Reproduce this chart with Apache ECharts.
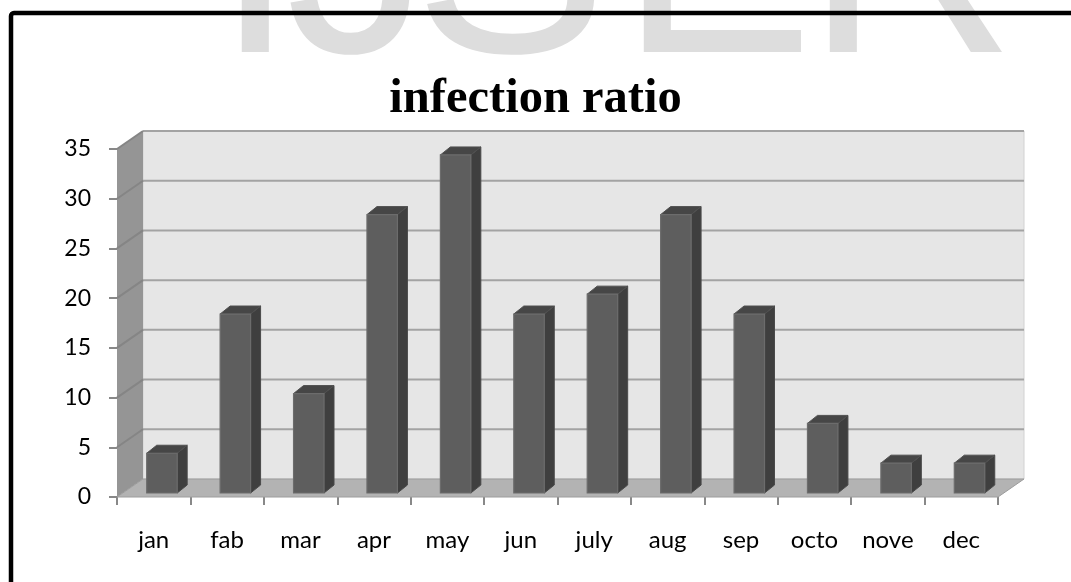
<!DOCTYPE html>
<html>
<head>
<meta charset="utf-8">
<style>
  html, body { margin: 0; padding: 0; background: #ffffff; }
  #chart { width: 1071px; height: 582px; }
</style>
<script src="https://cdn.jsdelivr.net/npm/echarts@6/dist/echarts.min.js"></script>
</head>
<body>
<div id="chart"></div>
<script>
// Monthly infection ratio
const months = ['jan', 'fab', 'mar', 'apr', 'may', 'jun', 'july', 'aug', 'sep', 'octo', 'nove', 'dec'];
const ratio = [4, 18, 10, 28, 34, 18, 20, 28, 18, 7, 3, 3];
const yTicks = [0, 5, 10, 15, 20, 25, 30, 35];

// oblique depth of the box (back plane offset) and of each column
const DEPTH = [26, -18];
const COL_FRONT = [0, -4];
const COL_DEPTH = [10, -8];

const chart = echarts.init(document.getElementById('chart'), null, { renderer: 'canvas' });

function poly(points, fill, stroke, lw) {
  return {
    type: 'polygon',
    shape: { points: points },
    style: { fill: fill, stroke: stroke || null, lineWidth: lw || 0 }
  };
}
function seg(a, b, color, lw) {
  return {
    type: 'line',
    shape: { x1: a[0], y1: a[1], x2: b[0], y2: b[1] },
    style: { stroke: color, lineWidth: lw }
  };
}
function back(p) { return [p[0] + DEPTH[0], p[1] + DEPTH[1]]; }

// walls, floor and gridlines of the 3D box
function renderBox(params, api) {
  const band = api.size([1, 0])[0];
  const first = api.coord([0, 0]);
  const last = api.coord([months.length - 1, 0]);
  const xl = first[0] - band / 2;
  const xr = last[0] + band / 2;
  const yMin = yTicks[0], yMax = yTicks[yTicks.length - 1];
  const y0 = api.coord([0, yMin])[1];
  const yTop = api.coord([0, yMax])[1];

  const fl = [xl, y0], fr = [xr, y0], tl = [xl, yTop];
  const children = [];
  // back wall
  children.push(poly([back(fl), back(fr), back([xr, yTop]), back(tl)], '#e6e6e6', '#d2d2d2', 1));
  // left wall
  children.push(poly([fl, tl, back(tl), back(fl)], '#959595'));
  // floor
  children.push(poly([fl, fr, back(fr), back(fl)], '#b3b3b3', '#9c9c9c', 1));
  // gridlines on back and left walls
  yTicks.forEach(function (v) {
    if (v === yMin) return;
    const y = api.coord([0, v])[1];
    children.push(seg(back([xl, y]), back([xr, y]), '#a3a3a3', 2));
    children.push(seg([xl, y], back([xl, y]), '#858585', 2));
  });
  return { type: 'group', children: children };
}

// one oblique column per month
function renderColumn(params, api) {
  const i = api.value(0);
  const v = api.value(1);
  const band = api.size([1, 0])[0];
  const top = api.coord([i, v]);
  const base = api.coord([i, 0]);
  const w = band * 0.415;
  const x1 = top[0] - 7 + COL_FRONT[0];
  const x2 = x1 + w;
  const yb = base[1] + COL_FRONT[1];
  const yt = top[1] + COL_FRONT[1];
  const dx = COL_DEPTH[0], dy = COL_DEPTH[1];
  return {
    type: 'group',
    children: [
      poly([[x2, yb], [x2 + dx, yb + dy], [x2 + dx, yt + dy], [x2, yt]], '#3f3f3f', '#4a4a4a', 1),
      poly([[x1, yt], [x2, yt], [x2 + dx, yt + dy], [x1 + dx, yt + dy]], '#464646', '#505050', 1),
      poly([[x1, yb], [x2, yb], [x2, yt], [x1, yt]], '#5e5e5e', '#6c6c6c', 1.2)
    ]
  };
}

const markFont = '290px "Liberation Sans"';
const markTop = -173;
const option = {
  animation: false,
  backgroundColor: '#ffffff',
  title: {
    text: 'infection ratio',
    left: 'center',
    top: 70,
    textStyle: {
      fontFamily: 'Liberation Serif',
      fontWeight: 'bold',
      fontSize: 48.5,
      color: '#000000'
    }
  },
  graphic: [
    // faint masthead lettering behind the chart
    { type: 'text', z: -10, left: 215, top: markTop, style: { text: 'I', font: markFont, fill: '#dddddd' } },
    { type: 'text', z: -10, left: 286, top: markTop, style: { text: 'J', font: markFont, fill: '#dddddd' } },
    { type: 'text', z: -10, left: 414, top: markTop, style: { text: 'S', font: markFont, fill: '#dddddd' } },
    { type: 'text', z: -10, left: 620, top: markTop, style: { text: 'E', font: markFont, fill: '#dddddd' } },
    { type: 'text', z: -10, left: 806, top: markTop, style: { text: 'R', font: markFont, fill: '#dddddd' } },
    // chart frame
    {
      type: 'rect', z: 100,
      shape: { x: 11, y: 13, width: 1120, height: 640, r: 3 },
      style: { fill: null, stroke: '#000000', lineWidth: 4.5 }
    }
  ],
  grid: { left: 117, right: 73, top: 149, bottom: 85 },
  xAxis: {
    type: 'category',
    data: months,
    boundaryGap: true,
    axisLine: { show: false },
    axisTick: { show: true, length: 8, lineStyle: { color: '#888888', width: 2 } },
    axisLabel: { margin: 31, fontFamily: 'Lato', fontSize: 24, color: '#000000' },
    splitLine: { show: false }
  },
  yAxis: {
    type: 'value',
    min: 0,
    max: 35,
    interval: 5,
    axisLine: { show: false },
    axisTick: { show: true, length: 8, lineStyle: { color: '#888888', width: 2 } },
    axisLabel: { margin: 26, fontFamily: 'Lato', fontSize: 23, color: '#000000' },
    splitLine: { show: false }
  },
  series: [
    {
      type: 'custom',
      name: 'box',
      z: 1,
      silent: true,
      renderItem: renderBox,
      data: [[0, 0]]
    },
    {
      type: 'custom',
      name: 'infection ratio',
      z: 2,
      renderItem: renderColumn,
      encode: { x: 0, y: 1 },
      data: ratio.map(function (v, i) { return [i, v]; })
    }
  ]
};

chart.setOption(option);
</script>
</body>
</html>
